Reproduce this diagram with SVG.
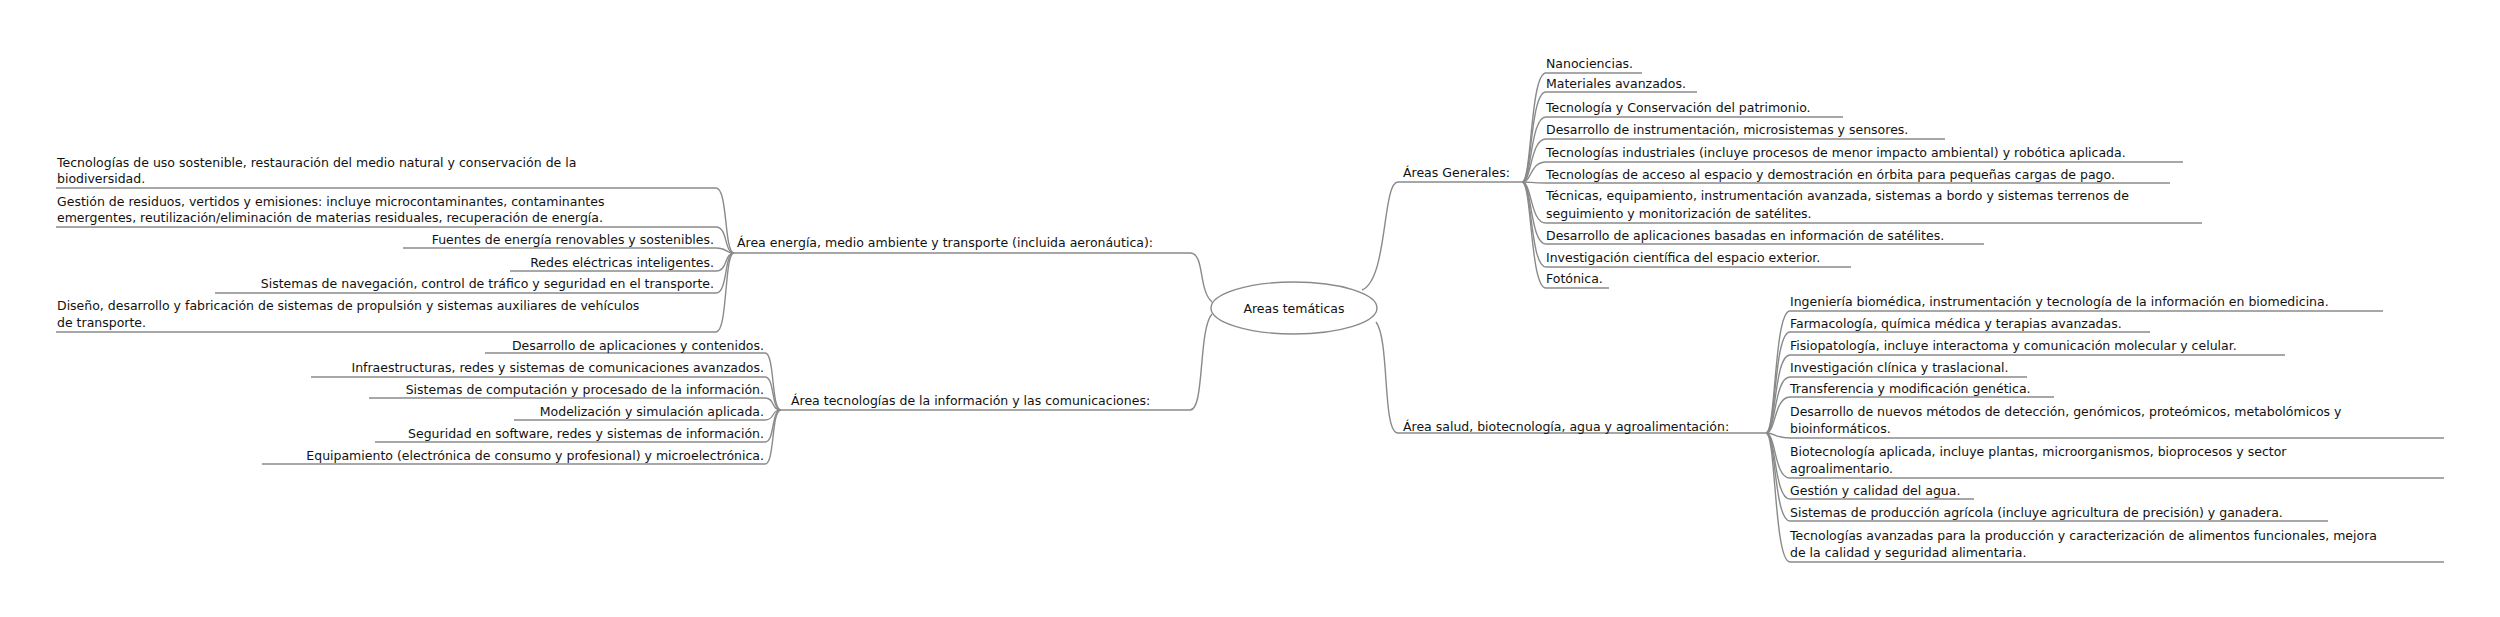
<svg xmlns="http://www.w3.org/2000/svg" width="2500" height="617" viewBox="0 0 2500 617">
<style>
text{font-family:"DejaVu Sans","Liberation Sans",sans-serif;font-size:12.5px;fill:#111}
.e{text-anchor:end}
.c path{fill:none;stroke:#8a8a8a;stroke-width:1.4}
</style>
<rect width="2500" height="617" fill="#fff"/>
<g class="c" id="connectors">
<!-- root to parents -->
<path d="M1362,290 C1388,280 1382,182 1398,182 H1522"/>
<path d="M1376,322 C1390,340 1382,433 1398,433 H1766"/>
<path d="M1212,302 C1198,290 1205,253 1190,253 H734"/>
<path d="M1212,314 C1198,330 1205,410 1190,410 H781"/>
<!-- Areas Generales children -->
<path d="M1522,182 C1532,182 1530,73 1546,73 H1642"/>
<path d="M1522,182 C1532,182 1530,92 1546,92 H1697"/>
<path d="M1522,182 C1532,182 1530,117 1546,117 H1843"/>
<path d="M1522,182 C1532,182 1530,139 1546,139 H1945"/>
<path d="M1522,182 C1532,182 1530,162 1546,162 H2183"/>
<path d="M1522,182 C1532,182 1530,183 1546,183 H2170"/>
<path d="M1522,182 C1532,182 1530,223 1546,223 H2202"/>
<path d="M1522,182 C1532,182 1530,244 1546,244 H1984"/>
<path d="M1522,182 C1532,182 1530,267 1546,267 H1851"/>
<path d="M1522,182 C1532,182 1530,288 1546,288 H1609"/>
<!-- salud children -->
<path d="M1766,433 C1776,433 1774,311 1790,311 H2383"/>
<path d="M1766,433 C1776,433 1774,332 1790,332 H2150"/>
<path d="M1766,433 C1776,433 1774,355 1790,355 H2285"/>
<path d="M1766,433 C1776,433 1774,377 1790,377 H2027"/>
<path d="M1766,433 C1776,433 1774,397 1790,397 H2054"/>
<path d="M1766,433 C1776,433 1774,438 1790,438 H2444"/>
<path d="M1766,433 C1776,433 1774,478 1790,478 H2444"/>
<path d="M1766,433 C1776,433 1774,499 1790,499 H1974"/>
<path d="M1766,433 C1776,433 1774,521 1790,521 H2328"/>
<path d="M1766,433 C1776,433 1774,562 1790,562 H2444"/>
<!-- energia children -->
<path d="M734,253 C724,253 728,188 716,188 H56"/>
<path d="M734,253 C724,253 728,227 716,227 H56"/>
<path d="M734,253 C724,253 728,248 716,248 H403"/>
<path d="M734,253 C724,253 728,271 716,271 H510"/>
<path d="M734,253 C724,253 728,293 716,293 H215"/>
<path d="M734,253 C724,253 728,332 716,332 H56"/>
<!-- tic children -->
<path d="M781,410 C771,410 775,353 765,353 H485"/>
<path d="M781,410 C771,410 775,377 765,377 H311"/>
<path d="M781,410 C771,410 775,398 765,398 H369"/>
<path d="M781,410 C771,410 775,420 765,420 H514"/>
<path d="M781,410 C771,410 775,442 765,442 H375"/>
<path d="M781,410 C771,410 775,464 765,464 H262"/>
</g>
<g id="root"><ellipse cx="1294" cy="308" rx="83" ry="26" fill="#fff" stroke="#8a8a8a" stroke-width="1.4"/><text x="1294" y="313" text-anchor="middle">Areas temáticas</text></g>
<g id="generales">
<text x="1403" y="177">Áreas Generales:</text>
<text x="1546" y="68">Nanociencias.</text>
<text x="1546" y="88">Materiales avanzados.</text>
<text x="1546" y="112">Tecnología y Conservación del patrimonio.</text>
<text x="1546" y="134">Desarrollo de instrumentación, microsistemas y sensores.</text>
<text x="1546" y="157">Tecnologías industriales (incluye procesos de menor impacto ambiental) y robótica aplicada.</text>
<text x="1546" y="179">Tecnologías de acceso al espacio y demostración en órbita para pequeñas cargas de pago.</text>
<text x="1546" y="200">Técnicas, equipamiento, instrumentación avanzada, sistemas a bordo y sistemas terrenos de</text>
<text x="1546" y="218">seguimiento y monitorización de satélites.</text>
<text x="1546" y="240">Desarrollo de aplicaciones basadas en información de satélites.</text>
<text x="1546" y="262">Investigación científica del espacio exterior.</text>
<text x="1546" y="283">Fotónica.</text>
</g>
<g id="salud">
<text x="1403" y="431">Área salud, biotecnología, agua y agroalimentación:</text>
<text x="1790" y="306">Ingeniería biomédica, instrumentación y tecnología de la información en biomedicina.</text>
<text x="1790" y="328">Farmacología, química médica y terapias avanzadas.</text>
<text x="1790" y="350">Fisiopatología, incluye interactoma y comunicación molecular y celular.</text>
<text x="1790" y="372">Investigación clínica y traslacional.</text>
<text x="1790" y="393">Transferencia y modificación genética.</text>
<text x="1790" y="416">Desarrollo de nuevos métodos de detección, genómicos, proteómicos, metabolómicos y</text>
<text x="1790" y="433">bioinformáticos.</text>
<text x="1790" y="456">Biotecnología aplicada, incluye plantas, microorganismos, bioprocesos y sector</text>
<text x="1790" y="473">agroalimentario.</text>
<text x="1790" y="495">Gestión y calidad del agua.</text>
<text x="1790" y="517">Sistemas de producción agrícola (incluye agricultura de precisión) y ganadera.</text>
<text x="1790" y="540">Tecnologías avanzadas para la producción y caracterización de alimentos funcionales, mejora</text>
<text x="1790" y="557">de la calidad y seguridad alimentaria.</text>
</g>
<g id="energia">
<text x="737" y="247">Área energía, medio ambiente y transporte (incluida aeronáutica):</text>
<text x="57" y="167">Tecnologías de uso sostenible, restauración del medio natural y conservación de la</text>
<text x="57" y="183">biodiversidad.</text>
<text x="57" y="206">Gestión de residuos, vertidos y emisiones: incluye microcontaminantes, contaminantes</text>
<text x="57" y="222">emergentes, reutilización/eliminación de materias residuales, recuperación de energía.</text>
<text class="e" x="714" y="244">Fuentes de energía renovables y sostenibles.</text>
<text class="e" x="714" y="267">Redes eléctricas inteligentes.</text>
<text class="e" x="714" y="288">Sistemas de navegación, control de tráfico y seguridad en el transporte.</text>
<text x="57" y="310">Diseño, desarrollo y fabricación de sistemas de propulsión y sistemas auxiliares de vehículos</text>
<text x="57" y="327">de transporte.</text>
</g>
<g id="tic">
<text x="791" y="405">Área tecnologías de la información y las comunicaciones:</text>
<text class="e" x="764" y="350">Desarrollo de aplicaciones y contenidos.</text>
<text class="e" x="764" y="372">Infraestructuras, redes y sistemas de comunicaciones avanzados.</text>
<text class="e" x="764" y="394">Sistemas de computación y procesado de la información.</text>
<text class="e" x="764" y="416">Modelización y simulación aplicada.</text>
<text class="e" x="764" y="438">Seguridad en software, redes y sistemas de información.</text>
<text class="e" x="764" y="460">Equipamiento (electrónica de consumo y profesional) y microelectrónica.</text>
</g>
</svg>
